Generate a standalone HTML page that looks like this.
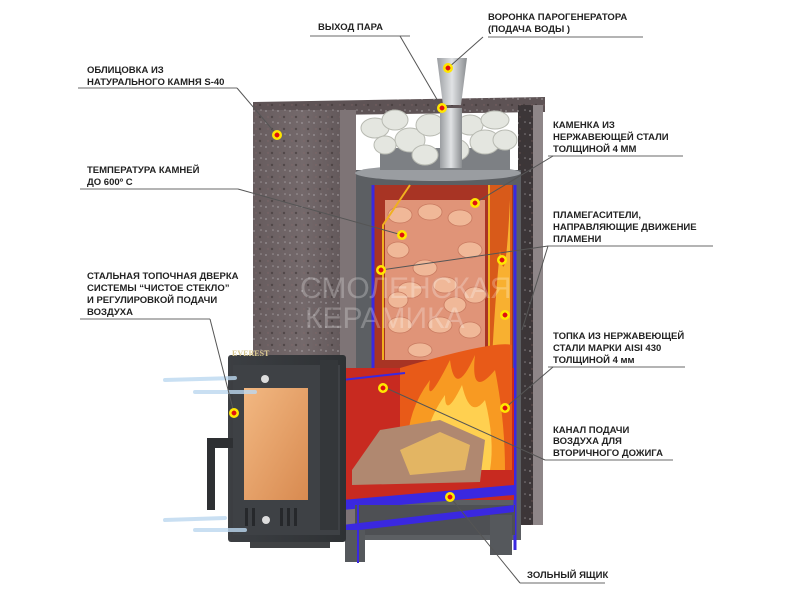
<!DOCTYPE html>
<html><head><meta charset="utf-8"><style>
body{margin:0;background:#fff}
svg{display:block}
.t{font-family:"Liberation Sans","DejaVu Sans",sans-serif;font-size:9.5px;font-weight:bold;fill:#222}
.l{stroke:#555;stroke-width:1;fill:none}
.ul{stroke:#888;stroke-width:1.2}
</style></head><body>
<svg width="800" height="600" viewBox="0 0 800 600" xmlns="http://www.w3.org/2000/svg">
<defs>
<linearGradient id="stone" x1="0" x2="1"><stop offset="0" stop-color="#675c5e"/><stop offset=".5" stop-color="#74696b"/><stop offset="1" stop-color="#5e5456"/></linearGradient>
<pattern id="speck" width="12" height="12" patternUnits="userSpaceOnUse">
<circle cx="2" cy="3" r="1" fill="#a8a4a6" opacity=".6"/><circle cx="8" cy="9" r="1.2" fill="#3e3536" opacity=".6"/><circle cx="9" cy="2" r=".8" fill="#c8c4c6" opacity=".5"/><circle cx="4" cy="9" r=".7" fill="#8a6a6a" opacity=".6"/>
</pattern>
<linearGradient id="steel" x1="0" x2="1"><stop offset="0" stop-color="#9a9da1"/><stop offset=".5" stop-color="#e0e2e4"/><stop offset="1" stop-color="#8a8d90"/></linearGradient>
<radialGradient id="fire" cx=".5" cy=".6" r=".6"><stop offset="0" stop-color="#ffe27a"/><stop offset=".5" stop-color="#f89a22"/><stop offset="1" stop-color="#e04a18" stop-opacity=".3"/></radialGradient>
<linearGradient id="glass" x1="0" y1="0" x2="1" y2="1"><stop offset="0" stop-color="#f2b882"/><stop offset="1" stop-color="#d88a50"/></linearGradient>
<linearGradient id="door" x1="0" x2="1"><stop offset="0" stop-color="#3c3f43"/><stop offset="1" stop-color="#2e3134"/></linearGradient>
<radialGradient id="dot"><stop offset="0" stop-color="#e01010"/><stop offset=".45" stop-color="#e01010"/><stop offset=".5" stop-color="#ffe600"/><stop offset="1" stop-color="#ffe600"/></radialGradient>
</defs>

<!-- stone cladding -->
<polygon points="253,102 545,97 545,112 253,116" fill="#5e5355"/>
<polygon points="253,102 545,97 545,112 253,116" fill="url(#speck)"/>
<rect x="253" y="110" width="100" height="420" fill="url(#stone)"/>
<rect x="253" y="110" width="100" height="420" fill="url(#speck)"/>
<rect x="340" y="110" width="16" height="420" fill="#7e7476"/>
<rect x="518" y="105" width="18" height="420" fill="#3c3638"/>
<rect x="518" y="105" width="18" height="420" fill="url(#speck)"/>
<rect x="533" y="105" width="10" height="420" fill="#8e8688"/>
<!-- steel body -->
<rect x="356" y="170" width="165" height="370" fill="#5c5f63"/>
<ellipse cx="438" cy="173" rx="83" ry="8" fill="#9a9da1"/>
<rect x="380" y="148" width="130" height="22" fill="#7d8084"/>
<!-- white stones -->
<g fill="#e4e6e0" stroke="#b8bab2" stroke-width="1">
<ellipse cx="375" cy="128" rx="14" ry="10"/><ellipse cx="395" cy="120" rx="13" ry="10"/><ellipse cx="410" cy="140" rx="15" ry="12"/>
<ellipse cx="430" cy="125" rx="14" ry="11"/><ellipse cx="470" cy="125" rx="13" ry="10"/><ellipse cx="495" cy="120" rx="14" ry="9"/>
<ellipse cx="485" cy="142" rx="15" ry="12"/><ellipse cx="455" cy="150" rx="14" ry="11"/><ellipse cx="425" cy="155" rx="13" ry="10"/>
<ellipse cx="505" cy="140" rx="12" ry="10"/><ellipse cx="385" cy="145" rx="11" ry="9"/>
</g>
<rect x="440" y="108" width="22" height="60" fill="url(#steel)"/>
<polygon points="437,58 467,58 461,105 443,105" fill="url(#steel)"/>
<!-- inner red chamber upper -->
<rect x="373" y="185" width="140" height="185" fill="#a83424"/>
<rect x="385" y="200" width="100" height="160" fill="#e09478"/>
<g fill="#f0b898" stroke="#c87a60" stroke-width=".8">
<ellipse cx="400" cy="215" rx="12" ry="8"/><ellipse cx="430" cy="212" rx="12" ry="8"/><ellipse cx="460" cy="218" rx="12" ry="8"/>
<ellipse cx="398" cy="250" rx="11" ry="8"/><ellipse cx="470" cy="250" rx="12" ry="8"/><ellipse cx="410" cy="290" rx="12" ry="8"/>
<ellipse cx="445" cy="285" rx="12" ry="8"/><ellipse cx="475" cy="295" rx="11" ry="8"/><ellipse cx="400" cy="325" rx="12" ry="8"/>
<ellipse cx="440" cy="325" rx="12" ry="8"/><ellipse cx="470" cy="330" rx="11" ry="8"/><ellipse cx="420" cy="350" rx="12" ry="7"/>
<ellipse cx="425" cy="268" rx="12" ry="8"/><ellipse cx="455" cy="305" rx="11" ry="8"/><ellipse cx="398" cy="300" rx="10" ry="8"/>
</g>
<rect x="490" y="185" width="22" height="180" fill="#d85a1a"/>
<path d="M492,360 Q495,300 500,250 Q505,300 510,200 L510,360 Z" fill="#f8b030"/>
<polyline points="383,360 383,225 410,185" stroke="#f0b020" stroke-width="2" fill="none"/>
<line x1="489" y1="185" x2="489" y2="350" stroke="#f0b020" stroke-width="2"/>
<line x1="373" y1="185" x2="373" y2="370" stroke="#3a28e0" stroke-width="3"/>
<line x1="515" y1="185" x2="515" y2="550" stroke="#3a28e0" stroke-width="3"/>
<!-- firebox -->
<rect x="342" y="368" width="172" height="132" fill="#c82a20"/>
<path d="M400,368 Q495,340 512,345 L512,470 L400,470 Z" fill="#e85a18"/>
<path d="M410,470 Q400,420 430,380 Q425,410 450,360 Q455,400 475,355 Q470,400 495,370 Q505,420 505,470 Z" fill="#f89a22"/>
<path d="M425,470 Q420,430 445,395 Q445,420 462,385 Q470,420 485,400 Q495,440 490,470 Z" fill="#ffd050"/>
<polygon points="352,470 380,430 440,420 485,440 480,482 352,485" fill="#b08870"/>
<polygon points="400,450 440,432 470,445 465,470 410,475" fill="#f0c060" opacity=".8"/>
<line x1="342" y1="380" x2="405" y2="373" stroke="#3a28e0" stroke-width="2"/>
<polygon points="342,500 514,485 514,495 342,510" fill="#3a28e0"/>
<rect x="355" y="505" width="160" height="30" fill="#4e5054"/>
<polygon points="342,525 514,505 514,512 342,532" fill="#3a28e0"/>
<rect x="345" y="530" width="20" height="32" fill="#55585c"/>
<rect x="490" y="515" width="22" height="40" fill="#55585c"/>
<line x1="358" y1="500" x2="358" y2="563" stroke="#3a28e0" stroke-width="2"/>
<!-- door -->
<rect x="250" y="530" width="80" height="18" fill="#404244"/>
<rect x="228" y="355" width="118" height="187" rx="3" fill="url(#door)"/>
<rect x="233" y="365" width="107" height="170" fill="#3e4145"/>
<rect x="244" y="388" width="64" height="112" fill="url(#glass)"/>
<circle cx="265" cy="379" r="4" fill="#ddd"/>
<circle cx="266" cy="520" r="4" fill="#ddd"/>
<g fill="#26282b"><rect x="245" y="508" width="3" height="18"/><rect x="252" y="508" width="3" height="18"/><rect x="280" y="508" width="3" height="18"/><rect x="287" y="508" width="3" height="18"/><rect x="294" y="508" width="3" height="18"/></g>
<rect x="320" y="360" width="18" height="170" fill="#34373a"/>
<rect x="207" y="438" width="8" height="72" fill="#2e3033"/>
<rect x="213" y="438" width="20" height="10" fill="#2e3033"/>
<text x="232" y="356" style="font-family:'Liberation Serif',serif;font-size:8px;fill:#d8c890;font-weight:bold">EVEREST</text>
<!-- air arrows -->
<g stroke="#bcd8f0" stroke-width="4" fill="none" opacity=".8" stroke-linecap="round">
<path d="M165,380 L235,378"/><path d="M195,392 L255,392"/>
<path d="M165,520 L225,518"/><path d="M195,530 L245,530"/>
</g>
<!-- watermark -->
<text x="300" y="298" style="font-family:'Liberation Sans',sans-serif;font-size:30px;fill:#fff;opacity:.25">СМОЛЕНСКАЯ</text>
<text x="305" y="328" style="font-family:'Liberation Sans',sans-serif;font-size:30px;fill:#fff;opacity:.25">КЕРАМИКА</text>

<!-- labels -->
<text class="t" x="318" y="30">ВЫХОД ПАРА</text>
<line class="ul" x1="310" y1="36" x2="410" y2="36"/>
<text class="t" x="488" y="20">ВОРОНКА ПАРОГЕНЕРАТОРА</text>
<text class="t" x="488" y="32">(ПОДАЧА ВОДЫ )</text>
<line class="ul" x1="488" y1="37" x2="643" y2="37"/>
<text class="t" x="87" y="73">ОБЛИЦОВКА ИЗ</text>
<text class="t" x="87" y="85">НАТУРАЛЬНОГО КАМНЯ S-40</text>
<line class="ul" x1="78" y1="88" x2="237" y2="88"/>
<text class="t" x="553" y="128">КАМЕНКА ИЗ</text>
<text class="t" x="553" y="140">НЕРЖАВЕЮЩЕЙ СТАЛИ</text>
<text class="t" x="553" y="152">ТОЛЩИНОЙ 4 ММ</text>
<line class="ul" x1="548" y1="156" x2="683" y2="156"/>
<text class="t" x="87" y="173">ТЕМПЕРАТУРА КАМНЕЙ</text>
<text class="t" x="87" y="185">ДО 600º С</text>
<line class="ul" x1="80" y1="189" x2="238" y2="189"/>
<text class="t" x="553" y="218">ПЛАМЕГАСИТЕЛИ,</text>
<text class="t" x="553" y="230">НАПРАВЛЯЮЩИЕ ДВИЖЕНИЕ</text>
<text class="t" x="553" y="242">ПЛАМЕНИ</text>
<line class="ul" x1="548" y1="246" x2="713" y2="246"/>
<text class="t" x="87" y="279">СТАЛЬНАЯ ТОПОЧНАЯ ДВЕРКА</text>
<text class="t" x="87" y="291">СИСТЕМЫ “ЧИСТОЕ СТЕКЛО”</text>
<text class="t" x="87" y="303">И РЕГУЛИРОВКОЙ ПОДАЧИ</text>
<text class="t" x="87" y="315">ВОЗДУХА</text>
<line class="ul" x1="80" y1="319" x2="210" y2="319"/>
<text class="t" x="553" y="339">ТОПКА ИЗ НЕРЖАВЕЮЩЕЙ</text>
<text class="t" x="553" y="351">СТАЛИ МАРКИ AISI 430</text>
<text class="t" x="553" y="363">ТОЛЩИНОЙ 4 мм</text>
<line class="ul" x1="548" y1="367" x2="685" y2="367"/>
<text class="t" x="553" y="433">КАНАЛ ПОДАЧИ</text>
<text class="t" x="553" y="444">ВОЗДУХА ДЛЯ</text>
<text class="t" x="553" y="456">ВТОРИЧНОГО ДОЖИГА</text>
<line class="ul" x1="545" y1="460" x2="673" y2="460"/>
<text class="t" x="527" y="578">ЗОЛЬНЫЙ ЯЩИК</text>
<line class="ul" x1="520" y1="583" x2="605" y2="583"/>

<!-- leaders -->
<polyline class="l" points="483,37 448,68"/>
<polyline class="l" points="400,36 442,108"/>
<polyline class="l" points="237,88 277,135"/>
<polyline class="l" points="553,156 475,203"/>
<polyline class="l" points="238,189 402,235"/>
<polyline class="l" points="548,246 381,270"/>
<polyline class="l" points="548,246 522,330"/>
<polyline class="l" points="210,319 234,413"/>
<polyline class="l" points="553,367 505,408"/>
<polyline class="l" points="545,460 386,388"/>
<polyline class="l" points="520,583 450,497"/>

<!-- dots -->
<g fill="url(#dot)">
<circle cx="448" cy="68" r="5"/><circle cx="442" cy="108" r="5"/><circle cx="277" cy="135" r="5"/>
<circle cx="475" cy="203" r="5"/><circle cx="402" cy="235" r="5"/><circle cx="381" cy="270" r="5"/>
<circle cx="502" cy="260" r="5"/><circle cx="505" cy="315" r="5"/><circle cx="505" cy="408" r="5"/>
<circle cx="234" cy="413" r="5"/><circle cx="383" cy="388" r="5"/><circle cx="450" cy="497" r="5"/>
</g>
</svg>
</body></html>
